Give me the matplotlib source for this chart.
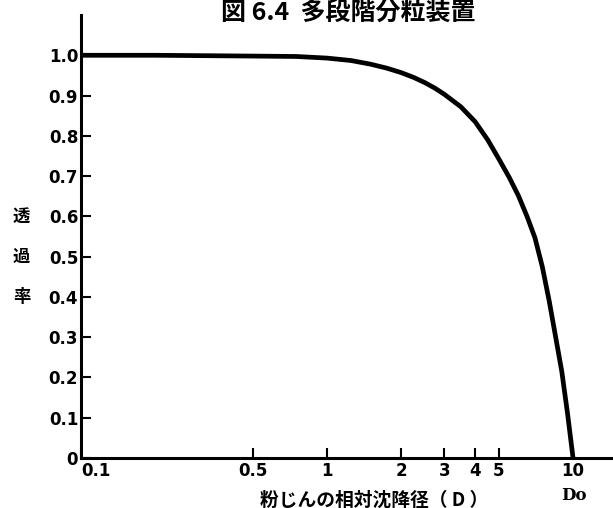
import matplotlib
matplotlib.use("Agg")
import matplotlib.pyplot as plt

plt.rcParams['font.family'] = ['DejaVu Sans', 'Noto Sans CJK JP']

# Data
diameter = [0.1, 0.2, 0.5, 0.75, 1.0, 1.25, 1.5, 1.75, 2.0, 2.25, 2.5, 2.75, 3.0,
            3.5, 4.0, 4.5, 5.0, 5.5, 6.0, 6.5, 7.0, 7.5, 8.0, 8.5, 9.0, 9.5, 10.0]
transmission = [1.0, 1.0, 0.998, 0.997, 0.993, 0.987, 0.978, 0.968, 0.957, 0.945,
                0.932, 0.918, 0.903, 0.872, 0.835, 0.79, 0.742, 0.697, 0.651, 0.60,
                0.547, 0.475, 0.39, 0.30, 0.215, 0.11, 0.0]

x_ticks = [0.1, 0.5, 1, 2, 3, 4, 5, 10]
x_tick_labels = ["0.1", "0.5", "1", "2", "3", "4", "5", "10"]
y_ticks = [0, 0.1, 0.2, 0.3, 0.4, 0.5, 0.6, 0.7, 0.8, 0.9, 1.0]
y_tick_labels = ["0", "0.1", "0.2", "0.3", "0.4", "0.5", "0.6", "0.7", "0.8", "0.9", "1.0"]

title = "図 6.4  多段階分粒装置"
xlabel = "粉じんの相対沈降径（ D ）"
ylabel_chars = ["透", "過", "率"]
d0_label = "Do"

W, H = 613, 508
fig = plt.figure(figsize=(W / 100, H / 100), dpi=100)
ax = fig.add_axes([81 / W, 1 - 458 / H, (612 - 81) / W, (458 - 15) / H])

ax.plot(diameter, transmission, color='black', lw=3.4, solid_capstyle='butt',
        solid_joinstyle='round')

ax.set_xscale('log')
ax.set_xlim(0.102, 14.4)
ax.set_ylim(0, 1.10)

ax.spines['top'].set_visible(False)
ax.spines['right'].set_visible(False)
ax.spines['left'].set_linewidth(2.2)
ax.spines['bottom'].set_linewidth(2.2)

ax.set_xticks(x_ticks)
ax.set_xticklabels(x_tick_labels, fontsize=12, fontweight='bold')
ax.xaxis.set_minor_locator(matplotlib.ticker.NullLocator())
ax.set_yticks(y_ticks)
ax.set_yticklabels(y_tick_labels, fontsize=12, fontweight='bold')
ax.tick_params(axis='both', direction='in', length=7, width=1.5, pad=3)
ax.tick_params(axis='y', pad=2)
ax.get_xticklabels()[0].set_ha('left')

# y-label characters aligned with 0.6 / 0.5 / 0.4
for ch, yv in zip(ylabel_chars, [0.6, 0.5, 0.4]):
    ax.text(-0.112, yv, ch, transform=ax.get_yaxis_transform(), ha='center', va='center',
            fontsize=12.5, fontweight='bold', family=['Noto Sans CJK JP'])

fig.text(374 / W, 1 - 500 / H, xlabel, ha='center', va='center', fontsize=13.5,
         fontweight='bold', family=['Noto Sans CJK JP'])
fig.text(574 / W, 1 - 495 / H, d0_label, ha='center', va='center', fontsize=12,
         fontweight='bold', family=['DejaVu Serif'])
fig.text(348 / W, 1 - 1 / H, title, ha='center', va='top', fontsize=18,
         fontweight='bold', family=['Noto Sans CJK JP'])

fig.savefig("out.png", dpi=100, facecolor='white')
